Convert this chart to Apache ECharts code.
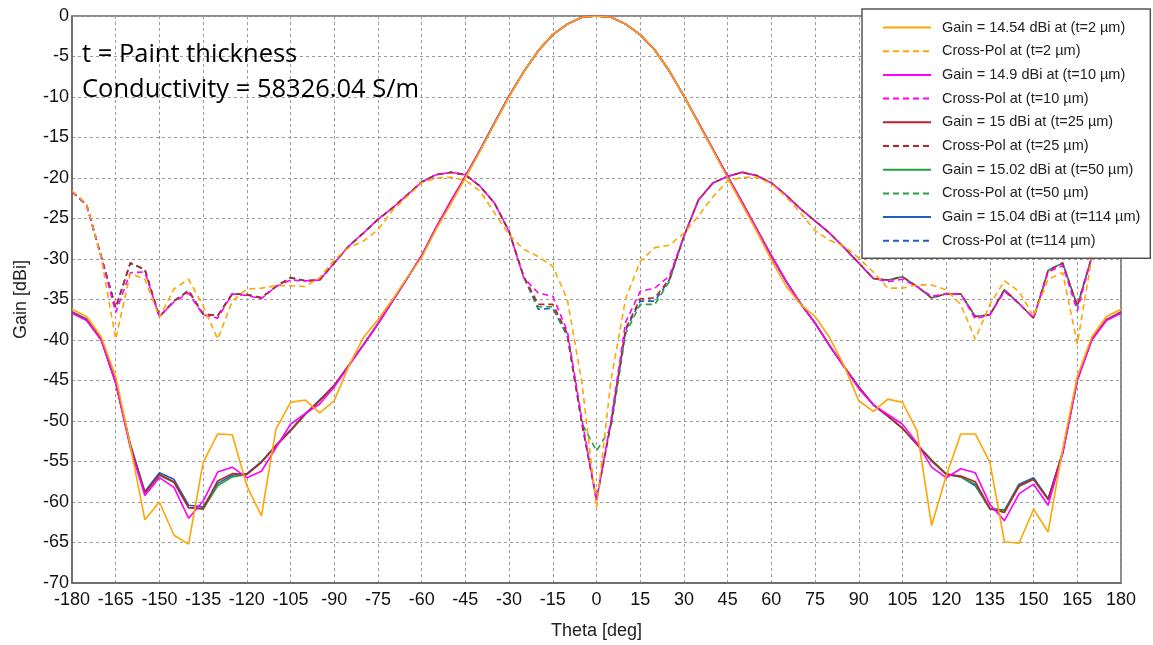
<!DOCTYPE html>
<html>
<head>
<meta charset="utf-8">
<script src="https://cdn.jsdelivr.net/npm/echarts@6/dist/echarts.min.js"></script>
<style>
html,body{margin:0;padding:0;background:#fff;}
#chart{width:1153px;height:645px;}
</style>
</head>
<body>
<div id="chart"></div>
<script>
// Theta angles (deg), -180..180 step 5
const theta = [-180,-175,-170,-165,-160,-155,-150,-145,-140,-135,-130,-125,-120,-115,-110,-105,-100,-95,-90,-85,-80,-75,-70,-65,-60,-55,-50,-45,-40,-35,-30,-25,-20,-15,-10,-5,0,5,10,15,20,25,30,35,40,45,50,55,60,65,70,75,80,85,90,95,100,105,110,115,120,125,130,135,140,145,150,155,160,165,170,175,180];

const xTicks = [-180,-165,-150,-135,-120,-105,-90,-75,-60,-45,-30,-15,0,15,30,45,60,75,90,105,120,135,150,165,180];
const yTicks = [0,-5,-10,-15,-20,-25,-30,-35,-40,-45,-50,-55,-60,-65,-70];

const seriesNames = [
  "Gain = 14.54 dBi at (t=2 µm)", "Cross-Pol at (t=2 µm)",
  "Gain = 14.9 dBi at (t=10 µm)", "Cross-Pol at (t=10 µm)",
  "Gain = 15 dBi at (t=25 µm)", "Cross-Pol at (t=25 µm)",
  "Gain = 15.02 dBi at (t=50 µm)", "Cross-Pol at (t=50 µm)",
  "Gain = 15.04 dBi at (t=114 µm)", "Cross-Pol at (t=114 µm)"
];

const annotationLines = ["t = Paint thickness", "Conductivity = 58326.04 S/m"];

// Co-pol gain (dBi normalised)
const gain_t2 = [-36.2,-37.1,-39.6,-44.5,-53.0,-62.2,-60.0,-64.1,-65.2,-55.1,-51.6,-51.7,-58.0,-61.7,-51.0,-47.7,-47.4,-49.0,-47.5,-43.2,-39.7,-37.5,-35.0,-32.3,-29.8,-26.3,-23.2,-20.0,-16.7,-13.3,-10.0,-6.9,-4.3,-2.3,-1.0,-0.15,0,-0.15,-1.0,-2.3,-4.2,-6.8,-9.9,-13.3,-16.6,-20.0,-23.3,-26.6,-30.1,-33.3,-35.6,-37.1,-39.7,-43.2,-47.5,-48.8,-47.3,-47.7,-51.2,-62.9,-56.8,-51.6,-51.6,-55.1,-64.9,-65.1,-60.9,-63.7,-53.4,-44.5,-39.6,-37.1,-36.2];
const gain_t10 = [-36.7,-37.6,-40.0,-45.3,-53.3,-59.2,-57.0,-58.2,-62.0,-59.9,-56.3,-55.7,-57.0,-56.2,-53.3,-50.4,-49.1,-47.9,-45.8,-43.2,-40.6,-38.0,-35.2,-32.4,-29.6,-26.1,-22.9,-19.8,-16.6,-13.2,-9.9,-6.9,-4.3,-2.3,-1.0,-0.15,0,-0.15,-1.0,-2.3,-4.2,-6.8,-9.9,-13.2,-16.5,-19.8,-23.0,-26.3,-29.6,-32.7,-35.5,-37.9,-40.7,-43.3,-46.0,-48.0,-49.2,-50.4,-52.7,-55.7,-57.0,-55.9,-56.4,-60.3,-62.3,-59.0,-57.8,-60.4,-54.0,-45.0,-40.0,-37.6,-36.7];
const gain_t25 = [-36.6,-37.5,-39.9,-45.3,-53.0,-58.9,-56.6,-57.5,-60.7,-60.8,-57.4,-56.5,-56.6,-55.1,-53.1,-51.2,-49.2,-47.5,-45.6,-43.1,-40.6,-38.0,-35.2,-32.4,-29.6,-26.1,-22.9,-19.8,-16.6,-13.2,-9.9,-6.9,-4.3,-2.3,-1.0,-0.15,0,-0.15,-1.0,-2.3,-4.2,-6.8,-9.9,-13.2,-16.5,-19.8,-23.0,-26.3,-29.6,-32.7,-35.5,-37.9,-40.7,-43.3,-45.8,-48.0,-49.4,-50.9,-52.9,-54.9,-56.6,-56.8,-57.5,-60.8,-61.3,-58.0,-57.2,-59.7,-53.9,-44.9,-39.9,-37.5,-36.6];
const gain_t50 = [-36.6,-37.5,-39.9,-45.3,-53.0,-58.9,-56.7,-57.6,-60.7,-60.9,-58.0,-56.9,-56.6,-55.1,-53.0,-51.2,-49.2,-47.5,-45.6,-43.1,-40.6,-38.0,-35.2,-32.4,-29.6,-26.1,-22.9,-19.8,-16.6,-13.2,-9.9,-6.9,-4.3,-2.3,-1.0,-0.15,0,-0.15,-1.0,-2.3,-4.2,-6.8,-9.9,-13.2,-16.5,-19.8,-23.0,-26.3,-29.6,-32.7,-35.5,-37.9,-40.7,-43.3,-45.8,-48.0,-49.4,-50.9,-52.9,-54.8,-56.5,-56.9,-57.8,-60.9,-61.1,-58.1,-57.2,-59.7,-53.9,-44.9,-39.9,-37.5,-36.6];
const gain_t114 = [-36.5,-37.4,-39.9,-45.2,-52.8,-58.7,-56.4,-57.2,-60.4,-60.6,-57.7,-56.7,-56.5,-55.0,-53.0,-51.1,-49.1,-47.4,-45.6,-43.1,-40.6,-38.0,-35.2,-32.4,-29.6,-26.1,-22.9,-19.8,-16.6,-13.2,-9.9,-6.9,-4.3,-2.3,-1.0,-0.15,0,-0.15,-1.0,-2.3,-4.2,-6.8,-9.9,-13.2,-16.5,-19.8,-23.0,-26.3,-29.6,-32.7,-35.5,-37.9,-40.7,-43.3,-45.8,-48.0,-49.4,-50.9,-52.9,-54.9,-56.6,-56.9,-58.0,-60.8,-61.0,-57.8,-57.0,-59.6,-53.8,-44.9,-39.9,-37.5,-36.5];

// Cross-pol (dBi normalised)
const xpol_t2 = [-21.6,-23.2,-29.8,-39.9,-31.8,-32.5,-37.2,-33.7,-32.5,-35.8,-39.9,-35.2,-33.7,-33.6,-33.3,-33.3,-33.4,-32.3,-30.1,-28.6,-27.8,-26.4,-24.0,-22.3,-20.6,-20.0,-19.9,-20.3,-21.6,-24.3,-27.0,-28.8,-29.7,-30.9,-35.0,-45.3,-60.7,-44.9,-34.9,-30.3,-28.6,-28.3,-26.8,-24.7,-22.3,-20.4,-19.9,-19.9,-20.7,-22.3,-24.3,-26.5,-27.7,-28.4,-29.9,-31.6,-33.6,-33.6,-33.2,-33.2,-33.8,-35.6,-39.9,-35.6,-32.7,-34.0,-37.1,-32.5,-31.7,-40.5,-29.8,-23.2,-21.6];
const xpol_t10 = [-21.7,-23.3,-29.7,-36.6,-31.7,-31.6,-37.1,-35.3,-34.2,-36.9,-37.3,-34.3,-34.5,-34.9,-33.4,-32.6,-32.7,-32.6,-30.5,-28.4,-26.8,-25.1,-23.7,-22.1,-20.5,-19.6,-19.3,-19.6,-21.0,-23.1,-26.6,-32.3,-34.2,-34.6,-38.9,-49.8,-59.8,-49.8,-37.8,-34.0,-33.6,-32.1,-27.2,-22.7,-20.6,-19.8,-19.3,-19.7,-20.6,-22.1,-23.8,-25.3,-26.8,-28.6,-30.5,-32.4,-32.8,-32.5,-33.4,-34.6,-34.3,-34.3,-37.4,-36.9,-34.0,-35.5,-37.3,-31.6,-30.8,-36.4,-29.7,-23.3,-21.7];
const xpol_t25 = [-21.7,-23.3,-29.7,-36.0,-30.5,-31.3,-37.1,-35.2,-33.9,-36.8,-37.0,-34.3,-34.4,-34.8,-33.4,-32.3,-32.7,-32.6,-30.5,-28.4,-26.8,-25.1,-23.7,-22.1,-20.5,-19.6,-19.3,-19.6,-21.0,-23.1,-26.6,-32.1,-35.6,-35.6,-39.2,-50.2,-59.7,-50.2,-38.6,-34.9,-34.8,-32.5,-27.2,-22.7,-20.6,-19.8,-19.3,-19.7,-20.6,-22.1,-23.8,-25.3,-26.8,-28.6,-30.5,-32.4,-32.6,-32.2,-33.4,-34.8,-34.3,-34.3,-37.1,-36.9,-33.8,-35.5,-37.3,-31.4,-30.5,-35.8,-29.7,-23.3,-21.7];
const xpol_t50 = [-21.7,-23.3,-29.7,-36.0,-30.5,-31.3,-37.1,-35.2,-33.9,-36.8,-37.0,-34.3,-34.4,-34.8,-33.4,-32.3,-32.7,-32.6,-30.5,-28.4,-26.8,-25.1,-23.7,-22.1,-20.5,-19.6,-19.3,-19.6,-21.0,-23.1,-26.6,-32.2,-35.9,-35.9,-39.5,-50.3,-53.7,-50.8,-39.2,-35.6,-35.6,-32.8,-27.2,-22.7,-20.6,-19.8,-19.3,-19.7,-20.6,-22.1,-23.8,-25.3,-26.8,-28.6,-30.5,-32.4,-32.6,-32.2,-33.4,-34.8,-34.3,-34.3,-37.1,-36.9,-33.8,-35.5,-37.3,-31.4,-30.5,-35.8,-29.7,-23.3,-21.7];
const xpol_t114 = [-21.7,-23.3,-29.7,-36.0,-30.5,-31.3,-37.1,-35.2,-33.9,-36.8,-37.0,-34.3,-34.4,-34.8,-33.4,-32.3,-32.7,-32.6,-30.5,-28.4,-26.8,-25.1,-23.7,-22.1,-20.5,-19.6,-19.3,-19.6,-21.0,-23.1,-26.6,-32.2,-36.2,-36.1,-39.5,-50.4,-59.8,-50.3,-38.8,-35.2,-35.2,-32.6,-27.2,-22.7,-20.6,-19.8,-19.3,-19.7,-20.6,-22.1,-23.8,-25.3,-26.8,-28.6,-30.5,-32.4,-32.6,-32.2,-33.4,-34.8,-34.3,-34.3,-37.1,-36.9,-33.8,-35.5,-37.3,-31.4,-30.5,-35.8,-29.7,-23.3,-21.7];

const colors = {t2:'#FFA500', t10:'#FF00FF', t25:'#B8232A', t50:'#1FA33C', t114:'#1F5FC2'};

function pairs(arr){ return theta.map((t,i)=>[t,arr[i]]); }
function mk(name, data, color, dashed, z){
  return {
    name, type:'line', data:pairs(data), symbol:'none', showSymbol:false,
    z: z, silent:true, animation:false,
    lineStyle:{color, width:1.6, type: dashed ? [6,4] : 'solid'},
    itemStyle:{color}
  };
}

const series = [
  mk(seriesNames[9], xpol_t114, colors.t114, true, 2),
  mk(seriesNames[7], xpol_t50, colors.t50, true, 2),
  mk(seriesNames[5], xpol_t25, colors.t25, true, 2),
  mk(seriesNames[3], xpol_t10, colors.t10, true, 2),
  mk(seriesNames[1], xpol_t2, colors.t2, true, 2),
  mk(seriesNames[8], gain_t114, colors.t114, false, 3),
  mk(seriesNames[6], gain_t50, colors.t50, false, 3),
  mk(seriesNames[4], gain_t25, colors.t25, false, 3),
  mk(seriesNames[2], gain_t10, colors.t10, false, 3),
  mk(seriesNames[0], gain_t2, colors.t2, false, 3)
];

const chart = echarts.init(document.getElementById('chart'), null, {renderer:'canvas'});
const labelFont = {fontFamily:'Liberation Sans', fontSize:18, color:'#111'};
chart.setOption({
  animation:false,
  backgroundColor:'#fff',
  grid:{left:72, right:32, top:16, bottom:61, show:true, borderColor:'#666', borderWidth:1.5, backgroundColor:'transparent'},
  xAxis:{
    type:'value', min:-180, max:180, interval:15,
    name:'Theta [deg]', nameLocation:'middle', nameGap:39,
    nameTextStyle:{fontFamily:'Liberation Sans', fontSize:18, color:'#222'},
    axisLine:{show:true, onZero:false, lineStyle:{color:'#666', width:1.5}},
    axisTick:{show:false},
    axisLabel:Object.assign({margin:8, formatter:v=> xTicks.includes(v) ? String(v) : ''}, labelFont),
    splitLine:{show:true, lineStyle:{color:'#9a9a9a', type:[3,3], width:1}}
  },
  yAxis:{
    type:'value', min:-70, max:0, interval:5,
    name:'Gain [dBi]', nameLocation:'middle', nameGap:42, nameRotate:90,
    nameTextStyle:{fontFamily:'Liberation Sans', fontSize:18, color:'#222'},
    axisLine:{show:true, onZero:false, lineStyle:{color:'#666', width:1.5}},
    axisTick:{show:false},
    axisLabel:Object.assign({margin:3, formatter:v=> yTicks.includes(v) ? String(v) : ''}, labelFont),
    splitLine:{show:true, lineStyle:{color:'#9a9a9a', type:[3,3], width:1}}
  },
  legend:{
    data:seriesNames,
    orient:'vertical', left:862, top:9,
    itemWidth:48, itemHeight:14, itemGap:8.7,
    padding:[11,10,10,20],
    backgroundColor:'#fff', borderColor:'#555', borderWidth:1.5,
    itemStyle:{opacity:0},
    textStyle:{fontFamily:'Liberation Sans', fontSize:14.5, color:'#222', padding:[0,0,0,6]},
    selectedMode:false
  },
  graphic:[
    {type:'text', left:82, top:42, z:10, style:{text:annotationLines[0], font:'25.5px "Open Sans"', fill:'#000'}},
    {type:'text', left:82, top:77, z:10, style:{text:annotationLines[1], font:'25.5px "Open Sans"', fill:'#000'}}
  ],
  series
});
</script>
</body>
</html>
